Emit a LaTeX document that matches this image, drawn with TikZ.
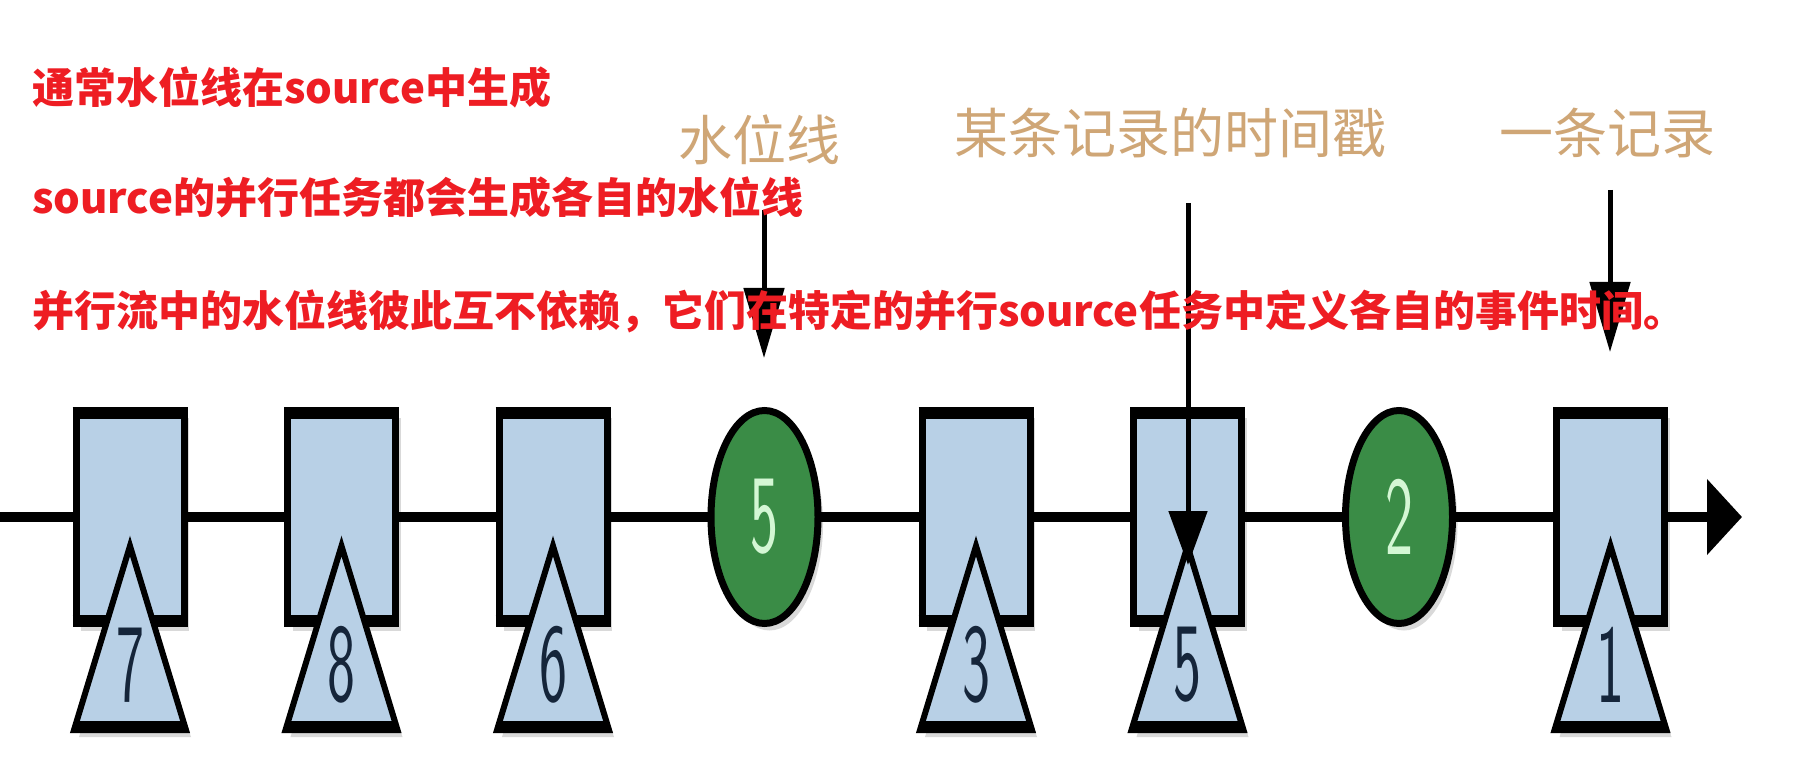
\documentclass[tikz,border=0pt]{standalone}
\usepackage{fontspec}
\newfontfamily\cjkfont{Noto Sans CJK SC}
\usepackage{xcolor}
\definecolor{notered}{HTML}{EE1D23}
\definecolor{labeltan}{HTML}{CFA676}
\definecolor{recblue}{HTML}{B8D0E6}
\definecolor{wmgreen}{HTML}{3A8C46}
\definecolor{wmtext}{HTML}{D4F7D4}
\definecolor{stampink}{HTML}{15253A}
\usetikzlibrary{arrows.meta, shapes.geometric, shadows}

\tikzset{
  note/.style={anchor=west, inner sep=0pt, text=notered, font=\cjkfont\bfseries\fontsize{42}{50}\selectfont},
  tag/.style={inner sep=0pt, text=labeltan, font=\cjkfont\fontsize{54}{60}\selectfont},
  soft/.style={drop shadow={shadow xshift=5pt, shadow yshift=-7pt, opacity=0.15, fill=black}},
  record/.style={draw, line width=7pt, fill=recblue, minimum width=108pt, minimum height=213pt, inner sep=0pt, soft},
  watermark/.style={ellipse, draw, line width=7pt, fill=wmgreen, minimum width=107pt, minimum height=213pt, inner sep=0pt, text=wmtext, font=\sffamily\fontsize{70}{70}\selectfont, soft},
  stamp/.style={draw, line width=6pt, fill=recblue, line join=miter, soft},
  stampnum/.style={inner sep=0pt, text=stampink, font=\sffamily\fontsize{70}{70}\selectfont},
  edge/.style={line width=12pt},
  timeline/.style={line width=10pt, -{Triangle[length=35pt, width=74pt]}},
  pointer/.style={line width=5pt, -{Triangle[length=70pt, width=40pt]}},
}

\begin{document}
\begin{tikzpicture}[x=1pt, y=-1pt]
\def\xo{130}
\def\gap{211.5}
\fill[white] (0,0) rectangle (1801,759);
\useasboundingbox (0,0) rectangle (1801,759);

% Stream axis
\coordinate (start) at (0,517);
\coordinate (end) at (1742,517);
\draw[timeline] (start) -- (end);

% Records with their timestamps
\foreach \i/\ts in {0/7,1/8,2/6,4/3,5/5,7/1}{
  \node[record] (rec\i) at (\xo+\gap*\i,517) {};
  \draw[edge] ([yshift=-6pt]rec\i.north west) -- ([yshift=-6pt]rec\i.north east);
  \draw[edge] ([yshift=6pt]rec\i.south west) -- ([yshift=6pt]rec\i.south east);
  \draw[stamp] (\xo+\gap*\i,546) -- ++(56,184) -- ++(-112,0) -- cycle;
  \draw[edge] (\xo+\gap*\i-56,727) -- (\xo+\gap*\i+56,727);
  \node[stampnum] (ts\i) at (\xo+\gap*\i,665) {\scalebox{0.85}[1.6]{\ts}};
}

% Watermarks
\foreach \i/\wm in {3/5,6/2}{
  \node[watermark] (wm\i) at (\xo+\gap*\i,517) {\scalebox{0.85}[1.6]{\wm}};
}

% Callouts
\node[tag] (wmtag) at (759,140) {水位线};
\node[tag] (tstag) at (1170,133) {某条记录的时间戳};
\node[tag] (rectag) at (1607,133) {一条记录};

\coordinate (wmtail) at (764,210);
\coordinate (wmtip) at (764,358);
\coordinate (tstail) at (1188,203);
\coordinate (tstip) at (1188,565);
\coordinate (rectail) at (1610,190);
\coordinate (rectip) at (1610,352);
\draw[pointer] (wmtail) -- (wmtip);
\draw[pointer, -{Triangle[length=54pt, width=38pt]}] (tstail) -- (tstip);
\draw[pointer] (rectail) -- (rectip);

% Notes
\node[note] (line1) at (32,87) {通常水位线在source中生成};
\node[note] (line2) at (32,197) {source的并行任务都会生成各自的水位线};
\node[note] (line3) at (32,311) {并行流中的水位线彼此互不依赖，它们在特定的并行source任务中定义各自的事件时间。};
\end{tikzpicture}
\end{document}
